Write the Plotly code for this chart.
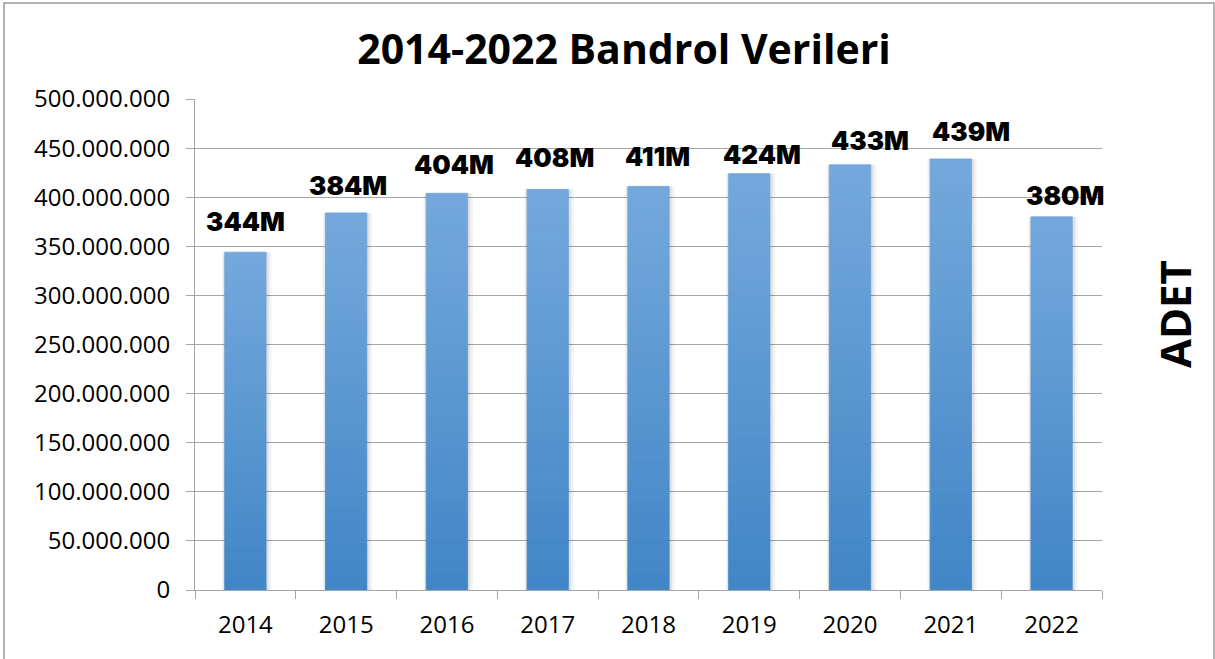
import plotly.graph_objects as go

years = ["2014", "2015", "2016", "2017", "2018", "2019", "2020", "2021", "2022"]
values = [344e6, 384e6, 404e6, 408e6, 411e6, 424e6, 433e6, 439e6, 380e6]
title_text = "2014-2022 Bandrol Verileri"
y_axis_label = "ADET"
y_ticks = [0, 50e6, 100e6, 150e6, 200e6, 250e6, 300e6, 350e6, 400e6, 450e6, 500e6]

W, H = 1215, 659
ML, MR, MT, MB = 195, 113, 99, 69
PW, PH = W - ML - MR, H - MT - MB

TOP = (116, 168, 220)
BOT = (65, 134, 199)
N = 40
BAR_W = 0.41

# label nudges (pixels) to mirror the manual label placement of the original
label_xshift = [0, 2, 7, 7, 9, 13, 20, 20, 13]
label_yshift = [13, 10, 11, 14, 12, 2, 7, 10, 4]

fig = go.Figure()

# soft shadow behind bars
for w, off, a in [(0.49, -0.232, 0.05), (0.45, -0.218, 0.07)]:
    fig.add_trace(go.Bar(x=years, y=values, width=w, offset=off,
                         marker=dict(color=f"rgba(0,0,0,{a})", line=dict(width=0)),
                         hoverinfo="skip", showlegend=False))

# gradient bars built from stacked slices of each value
for i in range(N):
    t = i / (N - 1)
    c = "rgb(%d,%d,%d)" % tuple(round(BOT[k] + (TOP[k] - BOT[k]) * t) for k in range(3))
    fig.add_trace(go.Bar(
        x=years,
        y=[v / N for v in values],
        base=[v * i / N for v in values],
        width=BAR_W,
        marker=dict(color=c, line=dict(width=0.8, color=c)),
        hoverinfo="skip", showlegend=False))

for idx, v in enumerate(values):
    fig.add_annotation(x=idx, y=v, text=f"{v/1e6:.0f}M", showarrow=False,
                       yanchor="bottom", xanchor="center",
                       xshift=label_xshift[idx], yshift=label_yshift[idx],
                       font=dict(family="Inter, Roboto, Arial Black", size=26,
                                 color="black", weight=900))

fig.add_annotation(x=(1174 - ML) / PW, y=(H - MB - 314) / PH, xref="paper", yref="paper",
                   xanchor="center", yanchor="middle",
                   text=f"<b>{y_axis_label}</b>", showarrow=False, textangle=-90,
                   font=dict(family="Open Sans", size=42, color="black"))

fig.add_shape(type="rect", xref="paper", yref="paper",
              x0=(4 - ML) / PW, x1=(1214 - ML) / PW,
              y0=(H - MB - 3) / PH, y1=(H - MB - 680) / PH,
              line=dict(color="#9a9a9a", width=1.5), layer="below")

fig.update_layout(
    width=W, height=H, autosize=False,
    margin=dict(l=ML, r=MR, t=MT, b=MB),
    barmode="overlay",
    bargap=0.59,
    paper_bgcolor="white", plot_bgcolor="white",
    separators=",.",
    title=dict(text=f"<b>{title_text}</b>", xref="container", yref="container",
               x=624 / W, y=1 - 50 / H, xanchor="center", yanchor="middle",
               font=dict(family="Open Sans", size=41, color="black")),
    font=dict(family="Open Sans", size=24, color="black"),
    xaxis=dict(type="category", range=[-0.5, len(years) - 0.5],
               showline=True, linecolor="#a6a6a6", linewidth=1,
               ticks="outside", tickson="boundaries", ticklen=8, tickcolor="#a6a6a6",
               ticklabelstandoff=13,
               showgrid=False, tickfont=dict(size=24, family="Open Sans")),
    yaxis=dict(range=[0, 500e6], tickvals=y_ticks, tickformat=",d",
               showline=True, linecolor="#a6a6a6", linewidth=1,
               ticks="outside", ticklen=8, tickcolor="#a6a6a6",
               ticklabelstandoff=11,
               showgrid=True, gridcolor="#a6a6a6", gridwidth=1, zeroline=False,
               tickfont=dict(size=24, family="Open Sans")),
)

fig.write_html("out.html", config={"displayModeBar": False},
               post_script="document.body.style.margin='0';document.body.style.overflow='hidden';")
